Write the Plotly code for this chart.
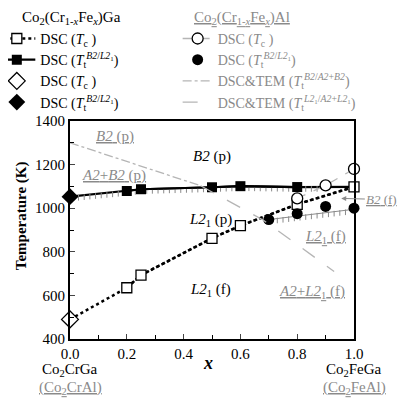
import numpy as np
import plotly.graph_objects as go

# ---------------- data ----------------
# Co2(Cr1-xFex)Ga
ga_tc_x = [0.2, 0.25, 0.5, 0.6, 0.8, 1.0]
ga_tc_T = [635, 693, 862, 920, 1018, 1098]
ga_tt_x = [0.2, 0.25, 0.5, 0.6, 0.8]
ga_tt_T = [1079, 1087, 1096, 1101, 1097]
crga_x = [0.0]
crga_tc_T = [490]
crga_tt_T = [1053]
# Co2(Cr1-xFex)Al
al_tc_x = [0.8, 0.9, 1.0]
al_tc_T = [1045, 1105, 1180]
al_tt_x = [0.7, 0.8, 0.9, 1.0]
al_tt_T = [948, 975, 1008, 1000]
al_b2_x = [0.0, 0.46]
al_b2_T = [1300, 1103]
al_l21_x = [0.46, 0.68, 0.93]
al_l21_T = [1103, 946, 710]
al_bound_x = [0.7, 1.0]
al_bound_T = [948, 995]

x_ticks = [0.0, 0.2, 0.4, 0.6, 0.8, 1.0]
y_ticks = [400, 600, 800, 1000, 1200, 1400]

FONT = "Liberation Serif, Times New Roman, serif"
GRAY = "#8a8a8a"
LGRAY = "#b5b5b5"

def g(s):
    return "<span style='color:%s'>%s</span>" % (GRAY, s)

TT = "<i>T</i><sub>t</sub><sup><i>B2</i>/<i>L2</i><sub>1</sub></sup>"

fig = go.Figure()

solid_x = crga_x + ga_tt_x + [ga_tc_x[-1]]
solid_T = crga_tt_T + ga_tt_T + [ga_tc_T[-1]]

# connecting lines (no legend)
fig.add_trace(go.Scatter(x=crga_x + ga_tc_x, y=crga_tc_T + ga_tc_T, mode="lines",
                         line=dict(color="black", width=2.5, dash="dot"), showlegend=False, hoverinfo="skip"))
fig.add_trace(go.Scatter(x=solid_x, y=solid_T, mode="lines",
                         line=dict(color="black", width=2.2), showlegend=False, hoverinfo="skip"))
# hatch along boundaries
hx = np.arange(0.03, 0.89, 0.02)
hy = np.interp(hx, solid_x, solid_T) - 9
fig.add_trace(go.Scatter(x=hx, y=hy, mode="markers", marker=dict(symbol="line-ns", size=4,
                         line=dict(color=GRAY, width=1)), showlegend=False, hoverinfo="skip"))
fig.add_trace(go.Scatter(x=al_bound_x, y=al_bound_T, mode="lines", line=dict(color=GRAY, width=1),
                         showlegend=False, hoverinfo="skip"))
hx2 = np.arange(0.73, 0.98, 0.02)
hy2 = np.interp(hx2, al_bound_x, al_bound_T) - 9
fig.add_trace(go.Scatter(x=hx2, y=hy2, mode="markers", marker=dict(symbol="line-ns", size=4,
                         line=dict(color=GRAY, width=1)), showlegend=False, hoverinfo="skip"))

# Ga legend traces
fig.add_trace(go.Scatter(x=ga_tc_x, y=ga_tc_T, mode="lines+markers", name="DSC (<i>T</i><sub>c</sub> )",
                         line=dict(color="black", width=2.5, dash="dot"),
                         marker=dict(symbol="square", size=10, color="white",
                                     line=dict(width=1.3, color="black")), cliponaxis=False, legend="legend"))
fig.add_trace(go.Scatter(x=ga_tt_x, y=ga_tt_T, mode="lines+markers", name="DSC (" + TT + ")",
                         line=dict(color="black", width=2.2),
                         marker=dict(symbol="square", size=10, color="black"), cliponaxis=False, legend="legend"))
fig.add_trace(go.Scatter(x=crga_x, y=crga_tc_T, mode="markers", name="DSC (<i>T</i><sub>c</sub> )",
                         marker=dict(symbol="diamond", size=13, color="white",
                                     line=dict(width=1.3, color="black")), cliponaxis=False, legend="legend"))
fig.add_trace(go.Scatter(x=crga_x, y=crga_tt_T, mode="markers", name="DSC (" + TT + ")",
                         marker=dict(symbol="diamond", size=13, color="black"), cliponaxis=False, legend="legend"))
# Al legend traces
fig.add_trace(go.Scatter(x=al_tc_x, y=al_tc_T, mode="lines+markers", name=g("DSC (<i>T</i><sub>c</sub> )"),
                         line=dict(color=LGRAY, width=1.3, dash="dash"),
                         marker=dict(symbol="circle", size=11, color="white",
                                     line=dict(width=1.3, color="black")), cliponaxis=False, legend="legend2"))
fig.add_trace(go.Scatter(x=al_tt_x, y=al_tt_T, mode="markers", name=g("DSC (" + TT + ")"),
                         marker=dict(symbol="circle", size=11, color="black"), cliponaxis=False, legend="legend2"))
fig.add_trace(go.Scatter(x=al_b2_x, y=al_b2_T, mode="lines",
                         name=g("DSC&amp;TEM (<i>T</i><sub>t</sub><sup><i>B2</i>/<i>A2</i>+<i>B2</i></sup>)"),
                         line=dict(color=LGRAY, width=1.3, dash="dashdot"), legend="legend2"))
fig.add_trace(go.Scatter(x=al_l21_x, y=al_l21_T, mode="lines",
                         name=g("DSC&amp;TEM (<i>T</i><sub>t</sub><sup><i>L2</i><sub>1</sub>/<i>A2</i>+<i>L2</i><sub>1</sub></sup>)"),
                         line=dict(color=LGRAY, width=1.3, dash="longdash"), legend="legend2"))

U = "<span style='color:%s;text-decoration:underline'>%s</span>"
labels = [
    (0.158, 1327, U % (GRAY, "<i>B2</i> (p)")),
    (0.155, 1152, U % (GRAY, "<i>A2</i>+<i>B2</i> (p)")),
    (0.50, 1235, "<i>B2</i> (p)"),
    (0.493, 945, "<i>L2</i><sub>1</sub> (p)"),
    (0.493, 625, "<i>L2</i><sub>1</sub> (f)"),
    (0.90, 869, U % (GRAY, "<i>L2</i><sub>1</sub> (f)")),
    (0.853, 617, U % (GRAY, "<i>A2</i>+<i>L2</i><sub>1</sub> (f)")),
]
for lx, ly, t in labels:
    fig.add_annotation(x=lx, y=ly, xref="x", yref="y", text=t, showarrow=False,
                       font=dict(family=FONT, size=15, color="black"))

fig.add_annotation(x=0.955, y=1045, xref="x", yref="y", ax=1.098, ay=1040, axref="x", ayref="y",
                   text=U % (GRAY, "<i>B2</i> (f)"), showarrow=True, arrowhead=2, arrowsize=1,
                   arrowwidth=1, arrowcolor=GRAY, font=dict(family=FONT, size=13))

# headers and composition labels
fig.add_annotation(x=-0.175, y=1.472, xref="paper", yref="paper", xanchor="left", yanchor="middle",
                   showarrow=False,
                   text="Co<sub>2</sub>(Cr<sub>1-<i>x</i></sub>Fe<sub><i>x</i></sub>)Ga",
                   font=dict(family=FONT, size=15, color="black"))
fig.add_annotation(x=0.428, y=1.472, xref="paper", yref="paper", xanchor="left", yanchor="middle",
                   showarrow=False,
                   text=U % (GRAY, "Co<sub>2</sub>(Cr<sub>1-<i>x</i></sub>Fe<sub><i>x</i></sub>)Al"),
                   font=dict(family=FONT, size=15))
for px, top, bot in [(0.0, "Co<sub>2</sub>CrGa", "(Co<sub>2</sub>CrAl)"),
                     (1.0, "Co<sub>2</sub>FeGa", "(Co<sub>2</sub>FeAl)")]:
    fig.add_annotation(x=px, y=-0.143, xref="paper", yref="paper", xanchor="center", yanchor="middle",
                       showarrow=False, text=top, font=dict(family=FONT, size=15, color="black"))
    fig.add_annotation(x=px, y=-0.226, xref="paper", yref="paper", xanchor="center", yanchor="middle",
                       showarrow=False, text=U % (GRAY, bot), font=dict(family=FONT, size=15))
fig.add_annotation(x=0.486, y=-0.108, xref="paper", yref="paper", xanchor="center", yanchor="middle",
                   showarrow=False, text="<b><i>x</i></b>", font=dict(family=FONT, size=18, color="black"))
fig.add_annotation(x=-0.172, y=0.564, xref="paper", yref="paper", xanchor="center", yanchor="middle",
                   showarrow=False, textangle=-90, text="<b>Temperature (K)</b>",
                   font=dict(family=FONT, size=15, color="black"))

leg = dict(orientation="v", yanchor="top", xanchor="left", font=dict(family=FONT, size=14),
           bgcolor="rgba(0,0,0,0)", traceorder="normal", tracegroupgap=0)
# the page body adds an 8px offset, so the figure is 8px smaller than the window
fig.update_layout(
    width=398, height=390,
    margin=dict(l=62, r=52, t=113, b=59, autoexpand=False),
    paper_bgcolor="white", plot_bgcolor="white",
    font=dict(family=FONT, size=15, color="black"),
    legend=dict(leg, x=-0.27, y=1.45, itemwidth=37),
    legend2=dict(leg, x=0.379, y=1.45, itemwidth=30),
    xaxis=dict(range=[0, 1], tickvals=x_ticks, ticktext=["%.1f" % v for v in x_ticks],
               ticks="inside", ticklen=5, tickwidth=1.2, showline=True, linecolor="black", linewidth=2,
               mirror=True, showgrid=False, zeroline=False,
               minor=dict(dtick=0.1, ticks="inside", ticklen=4, tickcolor="black")),
    yaxis=dict(range=[400, 1400], tickvals=y_ticks, ticks="inside", ticklen=5, tickwidth=1.2,
               showline=True, linecolor="black", linewidth=2, mirror=True, showgrid=False, zeroline=False,
               minor=dict(dtick=100, ticks="inside", ticklen=4, tickcolor="black")),
)

fig.write_html("out.html")
